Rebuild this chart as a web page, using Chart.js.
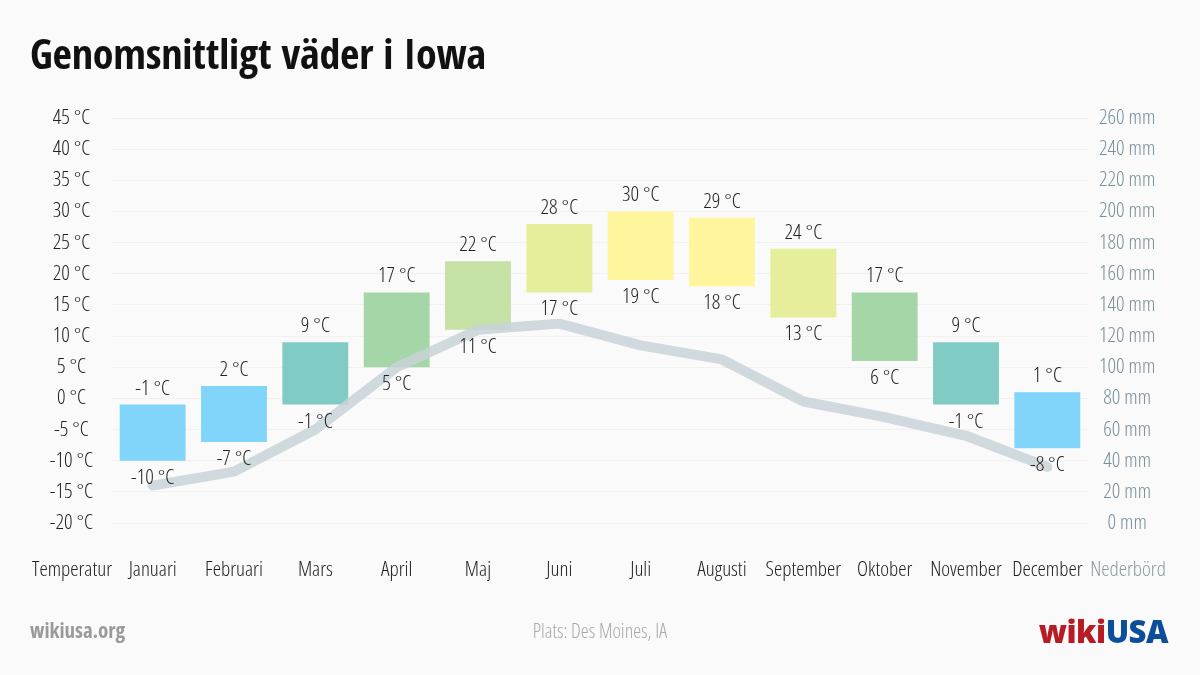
<!DOCTYPE html>
<html>
<head>
<meta charset="utf-8">
<script src="https://cdn.jsdelivr.net/npm/chart.js@4/dist/chart.umd.min.js"></script>
<style>
  html, body { margin: 0; padding: 0; background: #fafafa; }
  body { width: 1200px; height: 675px; position: relative; overflow: hidden;
         font-family: "Open Sans", sans-serif; font-stretch: condensed; }
  #wrap { position: absolute; left: 0; top: 0; width: 1200px; height: 675px; }
  h1 { position: absolute; left: 30px; top: 24px; margin: 0; font-size: 42px; font-weight: bold;
       font-family: "Open Sans Condensed", "Open Sans", sans-serif;
       color: #111; letter-spacing: -0.2px; }
  .foot { position: absolute; top: 617px; font-size: 21px; }
  #site { left: 30px; font-weight: bold; color: #9a9a9a; top: 616px; }
  #place { left: 0; width: 1200px; text-align: center; color: #a8a8a8; font-size: 20px; font-weight: 300; top: 617px; }
  #logo { right: 32px; top: 610px; font-family: "Open Sans", "DejaVu Sans", sans-serif; font-stretch: normal; font-weight: 800;
          font-size: 31px; letter-spacing: -0.5px; }
  #logo .w { color: #b71c24; }
  #logo .u { color: #0d4e9b; }
</style>
</head>
<body>
<div id="wrap"><canvas id="c" width="1200" height="675"></canvas></div>
<h1>Genomsnittligt väder i Iowa</h1>
<div class="foot" id="site">wikiusa.org</div>
<div class="foot" id="place">Plats: Des Moines, IA</div>
<div class="foot" id="logo"><span class="w">wiki</span><span class="u">USA</span></div>
<script>
  // Monthly climate for Des Moines, IA
  var months = ["Januari", "Februari", "Mars", "April", "Maj", "Juni", "Juli",
                "Augusti", "September", "Oktober", "November", "December"];
  var tempMax = [-1, 2, 9, 17, 22, 28, 30, 29, 24, 17, 9, 1];
  var tempMin = [-10, -7, -1, 5, 11, 17, 19, 18, 13, 6, -1, -8];
  var precip = [24, 33, 60, 100, 124, 128, 114, 105, 78, 68, 56, 36];
  var barColors = ["#81d4fa", "#81d4fa", "#80cbc4", "#a5d6a7", "#c5e1a5", "#e6ee9c",
                   "#fff59d", "#fff59d", "#e6ee9c", "#a5d6a7", "#80cbc4", "#81d4fa"];

  // Open Sans is variable in width; "condensed" rides along in the weight slot
  // so Chart.js passes it straight into ctx.font.
  var FONT = '"Open Sans", sans-serif';
  Chart.defaults.font.family = FONT;
  Chart.defaults.font.size = 21;
  Chart.defaults.font.weight = "300 condensed";
  Chart.defaults.color = "#222";

  // min / max labels above and below each bar, plus the two axis captions
  var extras = {
    id: "extras",
    afterDatasetsDraw: function (chart) {
      var ctx = chart.ctx;
      var meta = chart.getDatasetMeta(1);
      var yS = chart.scales.y;
      ctx.save();
      ctx.font = "300 condensed 21px " + FONT;
      ctx.fillStyle = "#222";
      ctx.textAlign = "center";
      ctx.textBaseline = "middle";
      meta.data.forEach(function (bar, i) {
        ctx.fillText(tempMax[i] + " °C", bar.x, yS.getPixelForValue(tempMax[i]) - 16);
        ctx.fillText(tempMin[i] + " °C", bar.x, yS.getPixelForValue(tempMin[i]) + 17);
      });
      var ly = chart.chartArea.bottom + 47;
      ctx.fillText("Temperatur", 72, ly);
      ctx.fillStyle = "#8a9ba3";
      ctx.fillText("Nederbörd", 1128, ly);
      ctx.restore();
    }
  };

  new Chart(document.getElementById("c"), {
    data: {
      labels: months,
      datasets: [
        {
          type: "line",
          label: "Nederbörd",
          data: precip,
          yAxisID: "y2",
          borderColor: "rgba(200,210,215,0.85)",
          borderWidth: 10,
          borderCapStyle: "round",
          borderJoinStyle: "round",
          pointRadius: 0,
          tension: 0,
          order: 0,
        },
        {
          type: "bar",
          label: "Temperatur",
          data: months.map(function (_, i) { return [tempMin[i], tempMax[i]]; }),
          yAxisID: "y",
          backgroundColor: barColors,
          borderWidth: 0,
          barPercentage: 0.81,
          categoryPercentage: 1,
          order: 1,
        },
      ],
    },
    options: {
      responsive: false,
      animation: false,
      layout: { padding: { left: 31, right: 31, top: 118, bottom: 0 } },
      plugins: { legend: { display: false }, tooltip: { enabled: false } },
      scales: {
        x: {
          grid: { display: false, drawTicks: false },
          border: { display: false },
          ticks: { padding: 34, color: "#222", maxRotation: 0, autoSkip: false },
          afterFit: function (s) { s.height = 152; },
        },
        y: {
          position: "left",
          min: -20,
          max: 45,
          grid: { color: "rgba(0,0,0,0.035)", drawTicks: false },
          border: { display: false },
          ticks: {
            stepSize: 5,
            crossAlign: "center",
            padding: 19,
            color: "#222",
            callback: function (v) { return v + " °C"; },
          },
          afterFit: function (s) { s.width = 81; },
        },
        y2: {
          position: "right",
          min: 0,
          max: 260,
          grid: { display: false, drawTicks: false },
          border: { display: false },
          ticks: {
            stepSize: 20,
            crossAlign: "center",
            padding: 11,
            color: "#78909c",
            callback: function (v) { return v + " mm"; },
          },
          afterFit: function (s) { s.width = 81; },
        },
      },
    },
    plugins: [extras],
  });
</script>
</body>
</html>
